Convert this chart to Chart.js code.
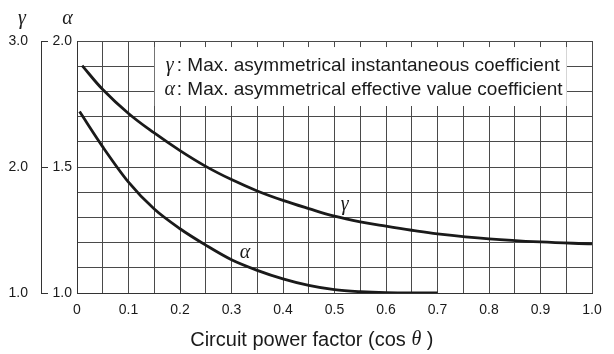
<!DOCTYPE html>
<html>
<head>
<meta charset="utf-8">
<script src="https://cdn.jsdelivr.net/npm/chart.js@4.4.0/dist/chart.umd.min.js"></script>
<style>
  html, body { margin: 0; padding: 0; background: #fff; }
</style>
</head>
<body>
<canvas id="pfChart" width="614" height="354"></canvas>
<script>
// power factor readings and the two coefficient curves
const gammaPf = [0.01, 0.05, 0.1, 0.15, 0.2, 0.25, 0.3, 0.35, 0.4, 0.45, 0.5, 0.55, 0.6, 0.65, 0.7, 0.8, 0.9, 1.0];
const gammaValues = [2.805, 2.615, 2.425, 2.27, 2.13, 2.005, 1.90, 1.81, 1.735, 1.67, 1.61, 1.565, 1.53, 1.498, 1.47, 1.43, 1.405, 1.39];
const alphaPf = [0.005, 0.05, 0.1, 0.15, 0.2, 0.25, 0.3, 0.35, 0.4, 0.45, 0.5, 0.55, 0.6, 0.65, 0.7];
const alphaValues = [1.72, 1.58, 1.44, 1.333, 1.255, 1.19, 1.132, 1.09, 1.056, 1.03, 1.013, 1.005, 1.001, 1.0, 1.0];

const xTickLabels = ['0', '0.1', '0.2', '0.3', '0.4', '0.5', '0.6', '0.7', '0.8', '0.9', '1.0'];
const alphaTickLabels = ['1.0', '1.5', '2.0'];
const gammaTickLabels = ['1.0', '2.0', '3.0'];
const legendLines = [
  ['γ', 'Max. asymmetrical instantaneous coefficient'],
  ['α', 'Max. asymmetrical effective value coefficient']
];

const SANS = "'Liberation Sans', Arial, Helvetica, sans-serif";
const GREEK = "italic 20px 'Liberation Serif', 'Times New Roman', serif";
const INK = '#1a1a1a';
const GRID = '#4a4a4a';

const toPoints = (xs, ys) => xs.map((x, i) => ({ x: x, y: ys[i] }));

const decor = {
  id: 'decor',
  beforeDatasetsDraw(chart) {
    const { ctx } = chart;
    const x = chart.scales.x, a = chart.scales.a;
    // legend box sits over the grid in the upper part of the plot
    const left = x.getPixelForValue(0.151), right = x.getPixelForValue(0.951);
    const top = a.getPixelForValue(1.976), bottom = a.getPixelForValue(1.742);
    ctx.save();
    ctx.fillStyle = '#fff';
    ctx.fillRect(left, top, right - left, bottom - top);
    ctx.fillStyle = INK;
    ctx.textBaseline = 'middle';
    legendLines.forEach((line, i) => {
      const y = top + 19 + i * 23.5;
      ctx.font = GREEK;
      ctx.textAlign = 'center';
      ctx.fillText(line[0], left + 15, y);
      ctx.font = '19px ' + SANS;
      ctx.textAlign = 'left';
      ctx.fillText(': ' + line[1], left + 22, y);
    });
    ctx.restore();
  },
  afterDraw(chart) {
    const { ctx } = chart;
    const x = chart.scales.x, a = chart.scales.a, g = chart.scales.g;
    ctx.save();
    ctx.strokeStyle = '#333';
    ctx.lineWidth = 1;
    // short ticks on the gamma bracket
    [1, 2, 3].forEach(v => {
      const py = Math.round(g.getPixelForValue(v)) + 0.5;
      ctx.beginPath();
      ctx.moveTo(g.right, py);
      ctx.lineTo(g.right + 7, py);
      ctx.stroke();
    });
    ctx.fillStyle = INK;
    ctx.font = GREEK;
    ctx.textAlign = 'center';
    ctx.textBaseline = 'middle';
    // axis symbols above the two left scales
    ctx.fillText('γ', g.right - 19, 19);
    ctx.fillText('α', a.right - 9.5, 19);
    // curve labels
    ctx.fillText('γ', x.getPixelForValue(0.52), g.getPixelForValue(1.70));
    ctx.fillText('α', x.getPixelForValue(0.326), a.getPixelForValue(1.159));
    // x axis title
    const t1 = 'Circuit power factor (cos ';
    const t2 = 'θ';
    const t3 = ' )';
    ctx.textAlign = 'left';
    ctx.font = '20px ' + SANS;
    const w1 = ctx.measureText(t1).width;
    const w3 = ctx.measureText(t3).width;
    ctx.font = GREEK;
    const w2 = ctx.measureText(t2).width;
    const tx = x.getPixelForValue(0.456) - (w1 + w2 + w3) / 2;
    const ty = 340;
    ctx.font = '20px ' + SANS;
    ctx.fillText(t1, tx, ty);
    ctx.font = GREEK;
    ctx.fillText(t2, tx + w1, ty);
    ctx.font = '20px ' + SANS;
    ctx.fillText(t3, tx + w1 + w2, ty);
    ctx.restore();
  }
};

new Chart(document.getElementById('pfChart'), {
  type: 'line',
  data: {
    datasets: [
      {
        label: 'gamma',
        data: toPoints(gammaPf, gammaValues),
        yAxisID: 'g',
        borderColor: INK,
        borderWidth: 2.8,
        pointRadius: 0,
        tension: 0.4,
        fill: false
      },
      {
        label: 'alpha',
        data: toPoints(alphaPf, alphaValues),
        yAxisID: 'a',
        borderColor: INK,
        borderWidth: 2.8,
        pointRadius: 0,
        cubicInterpolationMode: 'monotone',
        fill: false
      }
    ]
  },
  options: {
    responsive: false,
    animation: false,
    devicePixelRatio: 1,
    layout: { padding: { top: 41, right: 22, left: 0, bottom: 0 } },
    plugins: { legend: { display: false }, tooltip: { enabled: false } },
    scales: {
      x: {
        type: 'linear',
        min: 0,
        max: 1,
        border: { display: true, color: '#333', width: 1 },
        grid: { color: GRID, lineWidth: 1, drawTicks: false },
        ticks: {
          stepSize: 0.05,
          autoSkip: false,
          maxRotation: 0,
          padding: 9,
          color: INK,
          font: { family: SANS, size: 14 },
          callback: v => {
            const i = Math.round(v * 20);
            return i % 2 === 0 ? xTickLabels[i / 2] : '';
          }
        },
        afterFit: s => { s.height = 61; }
      },
      a: {
        type: 'linear',
        position: 'left',
        weight: 0,
        min: 1,
        max: 2,
        border: { display: true, color: '#333', width: 1 },
        grid: { color: GRID, lineWidth: 1, drawTicks: false },
        ticks: {
          stepSize: 0.1,
          autoSkip: false,
          padding: 5,
          color: INK,
          font: { family: SANS, size: 14 },
          callback: v => {
            const i = Math.round((v - 1) * 10);
            return i % 5 === 0 ? alphaTickLabels[i / 5] : '';
          }
        },
        afterFit: s => { s.width = 36; }
      },
      g: {
        type: 'linear',
        position: 'left',
        weight: 1,
        min: 1,
        max: 3,
        border: { display: true, color: '#333', width: 1 },
        grid: { display: false, drawOnChartArea: false, drawTicks: false },
        ticks: {
          stepSize: 1,
          padding: 13,
          color: INK,
          font: { family: SANS, size: 14 },
          callback: v => gammaTickLabels[Math.round(v - 1)]
        },
        afterFit: s => { s.width = 41; }
      }
    }
  },
  plugins: [decor]
});
</script>
</body>
</html>
